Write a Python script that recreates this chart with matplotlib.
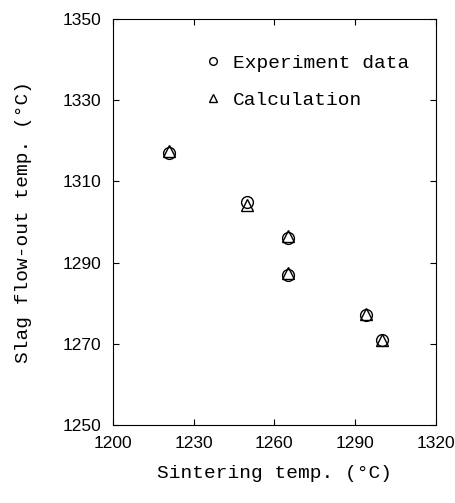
import matplotlib
matplotlib.use("Agg")
import matplotlib.pyplot as plt

# Sintering temperature vs. slag flow-out temperature
sinter_temp = [1221, 1250, 1265, 1265, 1294, 1300]
exp_flow = [1317, 1305, 1296, 1287, 1277, 1271]
calc_flow = [1317.5, 1304.2, 1296.5, 1287.5, 1277.3, 1271]

x_ticks = [1200, 1230, 1260, 1290, 1320]
y_ticks = [1250, 1270, 1290, 1310, 1330, 1350]

mono = "Liberation Mono"

fig = plt.figure(figsize=(4.55, 5.03), dpi=100)
ax = fig.add_axes([0.248, 0.155, 0.710, 0.807])

ax.plot(sinter_temp, exp_flow, linestyle="none", marker="o", markersize=8.5,
        markerfacecolor="none", markeredgecolor="black", markeredgewidth=1.0,
        label="Experiment data")
ax.plot(sinter_temp, calc_flow, linestyle="none", marker="^", markersize=8.5,
        markerfacecolor="none", markeredgecolor="black", markeredgewidth=1.0,
        label="Calculation")

ax.set_xlim(1200, 1320)
ax.set_ylim(1250, 1350)
ax.set_xticks(x_ticks)
ax.set_yticks(y_ticks)
ax.tick_params(direction="in", length=4, width=0.8, top=True, right=True,
               labelsize=12.5, pad=8)
for lab in ax.get_xticklabels() + ax.get_yticklabels():
    lab.set_family("Liberation Sans")

for s in ax.spines.values():
    s.set_linewidth(0.8)

ax.set_xlabel("Sintering temp. (°C)", family=mono, fontsize=14, labelpad=10)
ax.set_ylabel("Slag flow-out temp. (°C)", family=mono, fontsize=14)
ax.yaxis.set_label_coords(-0.25, 0.5)

ax.legend(loc="upper left", bbox_to_anchor=(0.287, 0.913), frameon=False,
          markerscale=0.65, handlelength=0.8, handletextpad=0.6,
          labelspacing=0.98, borderpad=0, borderaxespad=0,
          prop={"family": mono, "size": 14})

fig.savefig("out.png", dpi=100)
